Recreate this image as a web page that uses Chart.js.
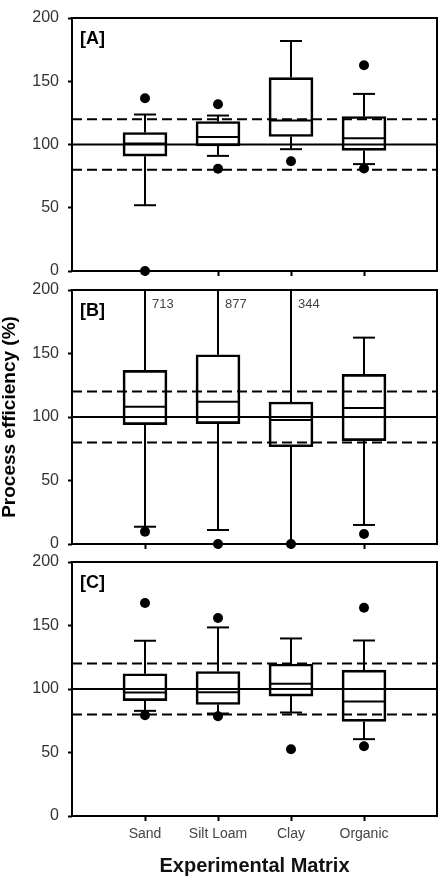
<!DOCTYPE html>
<html><head><meta charset="utf-8">
<script src="https://cdn.jsdelivr.net/npm/chart.js@4.4.0/dist/chart.umd.min.js"></script>
<style>
html,body{margin:0;padding:0;background:#fff;}
#wrap{position:relative;width:443px;height:886px;overflow:hidden;}
canvas{position:absolute;left:0;}
</style></head><body>
<div id="wrap">
<canvas id="cA" width="443" height="281" style="top:0px"></canvas>
<canvas id="cB" width="443" height="273" style="top:281px"></canvas>
<canvas id="cC" width="443" height="334" style="top:552px"></canvas>
</div>
<script>
// ---- data ----
const categories = ['Sand', 'Silt Loam', 'Clay', 'Organic'];
const yTicks = [0, 50, 100, 150, 200];
const panelLabels = ['[A]', '[B]', '[C]'];
const refSolid = 100;
const refDashed = [80, 120];

// Panel A
const aWhiskerLow  = [52, 91, 96.3, 84.5];
const aQ1          = [90.8, 98.9, 106.3, 95.3];
const aMedian      = [100.8, 106, 118.9, 105];
const aQ3          = [109.5, 118.2, 152.9, 122.1];
const aWhiskerHigh = [123.7, 122.9, 181.8, 140];
const aOutliers    = [[136.6, 0], [131.8, 80.8], [86.8], [162.6, 81]];

// Panel B
const bWhiskerLow  = [13.6, 11, 0, 15];
const bQ1          = [94, 94.8, 76.6, 81.4];
const bMedian      = [108.1, 112, 97.6, 107.1];
const bQ3          = [136.7, 149, 111.8, 133.6];
const bWhiskerHigh = [713, 877, 344, 162.5];
const bOutliers    = [[9.7], [0], [0], [7.9]];

// Panel C
const cWhiskerLow  = [82.8, 80.7, 81.5, 60.5];
const cQ1          = [90.9, 87.8, 94.4, 74.5];
const cMedian      = [97.2, 97.4, 104.1, 90.1];
const cQ3          = [112, 113.8, 119.7, 114.8];
const cWhiskerHigh = [138, 148.5, 139.8, 138.2];
const cOutliers    = [[167.7, 79.4], [155.9, 78.6], [52.6], [164, 54.9]];

// ---- drawing ----
const FONT = "'Liberation Sans', Arial, Helvetica, sans-serif";
const BOX_PX = 44, CAP_PX = 22;

const boxParts = {
  id: 'boxParts',
  afterDatasetsDraw(chart) {
    const o = chart.options.plugins.boxParts;
    const {ctx, chartArea: a, scales: {x, y}} = chart;
    const line = (x1, y1, x2, y2) => { ctx.beginPath(); ctx.moveTo(x1, y1); ctx.lineTo(x2, y2); ctx.stroke(); };
    ctx.save();
    ctx.beginPath(); ctx.rect(a.left, a.top - 1, a.right - a.left, a.bottom - a.top + 2); ctx.clip();
    ctx.strokeStyle = '#000'; ctx.lineWidth = 2; ctx.lineCap = 'butt';
    o.median.forEach((m, i) => {
      const cx = x.getPixelForValue(i + 1);
      const ym = y.getPixelForValue(m);
      line(cx - BOX_PX / 2, ym, cx + BOX_PX / 2, ym);
      const yq3 = y.getPixelForValue(o.q3[i]);
      const yhi = y.getPixelForValue(o.hi[i]);
      line(cx, yq3, cx, yhi);
      if (o.hi[i] <= y.max) line(cx - CAP_PX / 2, yhi, cx + CAP_PX / 2, yhi);
      const yq1 = y.getPixelForValue(o.q1[i]);
      const ylo = y.getPixelForValue(o.lo[i]);
      line(cx, yq1, cx, ylo);
      if (o.lo[i] >= y.min) line(cx - CAP_PX / 2, ylo, cx + CAP_PX / 2, ylo);
    });
    ctx.restore();
    // frame
    ctx.save();
    ctx.strokeStyle = '#000'; ctx.lineWidth = 2;
    ctx.strokeRect(a.left, a.top, a.right - a.left, a.bottom - a.top);
    // panel label
    ctx.fillStyle = '#000';
    ctx.font = 'bold 18px ' + FONT;
    ctx.textAlign = 'left'; ctx.textBaseline = 'middle';
    ctx.fillText(o.label, a.left + 8, a.top + 21);
    // values of whiskers beyond the axis
    ctx.font = '13px ' + FONT; ctx.fillStyle = '#444';
    o.hi.forEach((h, i) => {
      if (h > y.max) ctx.fillText(String(h), x.getPixelForValue(i + 1) + 7, a.top + 14);
    });
    ctx.restore();
  }
};

function makePanel(id, d, cfg) {
  const outPts = d.out.flatMap((vals, i) => vals.map(v => ({x: i + 1, y: v})));
  const refLine = (v, dash, w) => ({
    type: 'line', data: [{x: 0, y: v}, {x: 5, y: v}],
    borderColor: '#000', borderWidth: w, borderDash: dash, pointRadius: 0, order: 0
  });
  return new Chart(document.getElementById(id), {
    data: {
      datasets: [
        { type: 'bar', data: d.q1.map((q, i) => ({x: i + 1, y: [q, d.q3[i]]})),
          backgroundColor: 'rgba(0,0,0,0)', borderColor: '#000', borderWidth: 2,
          borderSkipped: false, barThickness: BOX_PX, order: 2 },
        refLine(refSolid, [], 1.8),
        refLine(refDashed[0], [10, 5], 2),
        refLine(refDashed[1], [10, 5], 2),
        { type: 'scatter', data: outPts, backgroundColor: '#000', borderWidth: 0,
          pointRadius: 5, clip: false, order: 1 }
      ]
    },
    options: {
      responsive: false, animation: false, events: [],
      layout: { autoPadding: false, padding: { top: cfg.padTop, right: 6, left: 0, bottom: 0 } },
      plugins: {
        legend: { display: false }, tooltip: { enabled: false },
        boxParts: { label: cfg.label, median: d.med, q1: d.q1, q3: d.q3, lo: d.lo, hi: d.hi }
      },
      scales: {
        x: {
          type: 'linear', min: 0, max: 5, offset: false,
          afterBuildTicks: s => { s.ticks = categories.map((c, i) => ({value: i + 1})); },
          afterFit: s => { s.height = cfg.xHeight; s.paddingLeft = 0; s.paddingRight = 0; },
          ticks: { display: cfg.showX, autoSkip: false, maxRotation: 0, padding: 5,
                   color: '#444', font: { family: FONT, size: 14 },
                   callback: v => categories[v - 1] },
          grid: { drawOnChartArea: false, offset: false, tickLength: 5, tickWidth: 2, color: '#000' },
          border: { display: false },
          title: { display: cfg.showX, text: 'Experimental Matrix', color: '#111',
                   font: { family: FONT, size: 20, weight: 'bold', lineHeight: 1.2 },
                   padding: { top: 0, bottom: 8 } }
        },
        y: {
          min: 0, max: 200,
          afterBuildTicks: s => { s.ticks = yTicks.map(v => ({value: v})); },
          afterFit: s => { s.width = 72; s.paddingTop = 0; s.paddingBottom = 0; },
          ticks: { color: '#333', padding: 9, font: { family: FONT, size: 16, lineHeight: 1 } },
          grid: { drawOnChartArea: false, tickLength: 4, tickWidth: 2, color: '#000' },
          border: { display: false },
          title: { display: cfg.showYTitle, text: 'Process efficiency (%)', color: '#000',
                   font: { family: FONT, size: 19, weight: 'bold', lineHeight: 1 },
                   padding: 0 }
        }
      }
    },
    plugins: [boxParts]
  });
}

makePanel('cA', {lo: aWhiskerLow, q1: aQ1, med: aMedian, q3: aQ3, hi: aWhiskerHigh, out: aOutliers},
  {label: panelLabels[0], padTop: 18, xHeight: 10, showX: false, showYTitle: false});
makePanel('cB', {lo: bWhiskerLow, q1: bQ1, med: bMedian, q3: bQ3, hi: bWhiskerHigh, out: bOutliers},
  {label: panelLabels[1], padTop: 9, xHeight: 10, showX: false, showYTitle: true});
makePanel('cC', {lo: cWhiskerLow, q1: cQ1, med: cMedian, q3: cQ3, hi: cWhiskerHigh, out: cOutliers},
  {label: panelLabels[2], padTop: 10, xHeight: 70, showX: true, showYTitle: false});
</script>
</body></html>
